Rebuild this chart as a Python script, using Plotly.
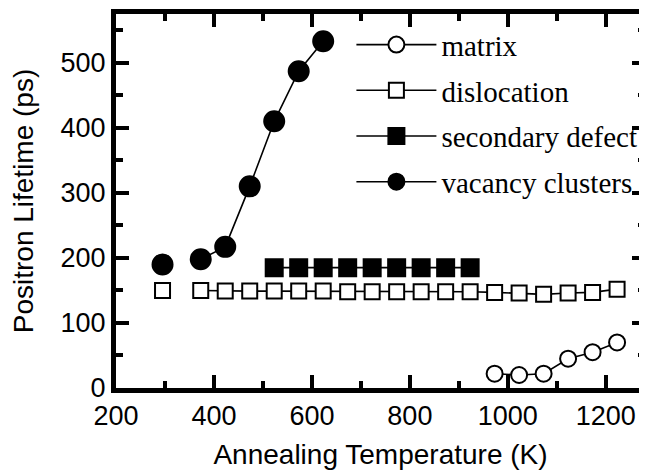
import plotly.graph_objects as go

# Data
temp_matrix = [973, 1023, 1073, 1123, 1173, 1223]
life_matrix = [22, 20, 22, 45, 55, 70]

temp_disl = [295, 373, 423, 473, 523, 573, 623, 673, 723, 773, 823, 873, 923, 973, 1023, 1073, 1123, 1173, 1223]
life_disl = [150, 150, 149, 149, 149, 149, 149, 148, 148, 148, 148, 148, 148, 147, 146, 144, 146, 147, 152]

temp_sec = [523, 573, 623, 673, 723, 773, 823, 873, 923]
life_sec = [185, 185, 185, 185, 185, 185, 185, 185, 185]

temp_vac = [295, 373, 423, 473, 523, 573, 623]
life_vac = [190, 198, 217, 310, 410, 487, 533]

x_ticks = [200, 400, 600, 800, 1000, 1200]
x_minor = [300, 500, 700, 900, 1100]
y_ticks = [0, 100, 200, 300, 400, 500]
y_minor = [50, 150, 250, 350, 450, 550]

fig = go.Figure()
line = dict(color="black", width=1.6)

def add(name, xs, ys, symbol, size, fill, split_first, group):
    mk = dict(symbol=symbol, size=size, color=fill, line=dict(color="black", width=2))
    if split_first:
        fig.add_trace(go.Scatter(x=xs[:1], y=ys[:1], mode="markers", marker=mk,
                                 showlegend=False, legendgroup=group))
        xs, ys = xs[1:], ys[1:]
    fig.add_trace(go.Scatter(x=xs, y=ys, mode="lines+markers", name=name, line=line,
                             marker=mk, legendgroup=group))

add("matrix", temp_matrix, life_matrix, "circle", 16, "white", False, "a")
add("dislocation", temp_disl, life_disl, "square", 15, "white", True, "b")
add("secondary defect", temp_sec, life_sec, "square", 17, "black", False, "c")
add("vacancy clusters", temp_vac, life_vac, "circle", 20, "black", True, "d")

tickfont = dict(family="Liberation Sans, Arial", size=27, color="black")
titlefont = dict(family="Liberation Sans, Arial", size=28, color="black")
axis_common = dict(showline=True, linecolor="black", linewidth=5, mirror="ticks",
                   ticks="inside", tickcolor="black", tickwidth=4, ticklen=13,
                   showgrid=False, zeroline=False, automargin=False, tickfont=tickfont)
minor_common = dict(ticks="inside", ticklen=7, tickwidth=4, tickcolor="black")

fig.update_xaxes(range=[200, 1280], tickvals=x_ticks,
                 minor=dict(tickvals=x_minor, **minor_common),
                 title=dict(text="Annealing Temperature (K)", standoff=15, font=titlefont),
                 **axis_common)
fig.update_yaxes(range=[0, 575], tickvals=y_ticks,
                 minor=dict(tickvals=y_minor, **minor_common),
                 title=dict(text="Positron Lifetime (ps)", standoff=20, font=titlefont),
                 **axis_common)

# page body has an 8px margin, so the figure is shrunk by 8px and margins shifted
fig.update_layout(
    width=639, height=464,
    margin=dict(l=108, r=2, t=6, b=84),
    plot_bgcolor="white", paper_bgcolor="white",
    legend=dict(x=0.445, y=0.986, xanchor="left", yanchor="top", bgcolor="rgba(0,0,0,0)",
                font=dict(family="Liberation Serif, Times New Roman", size=29, color="black"),
                itemwidth=80, traceorder="grouped", tracegroupgap=5),
    showlegend=True,
)

fig.write_html("out.html")
